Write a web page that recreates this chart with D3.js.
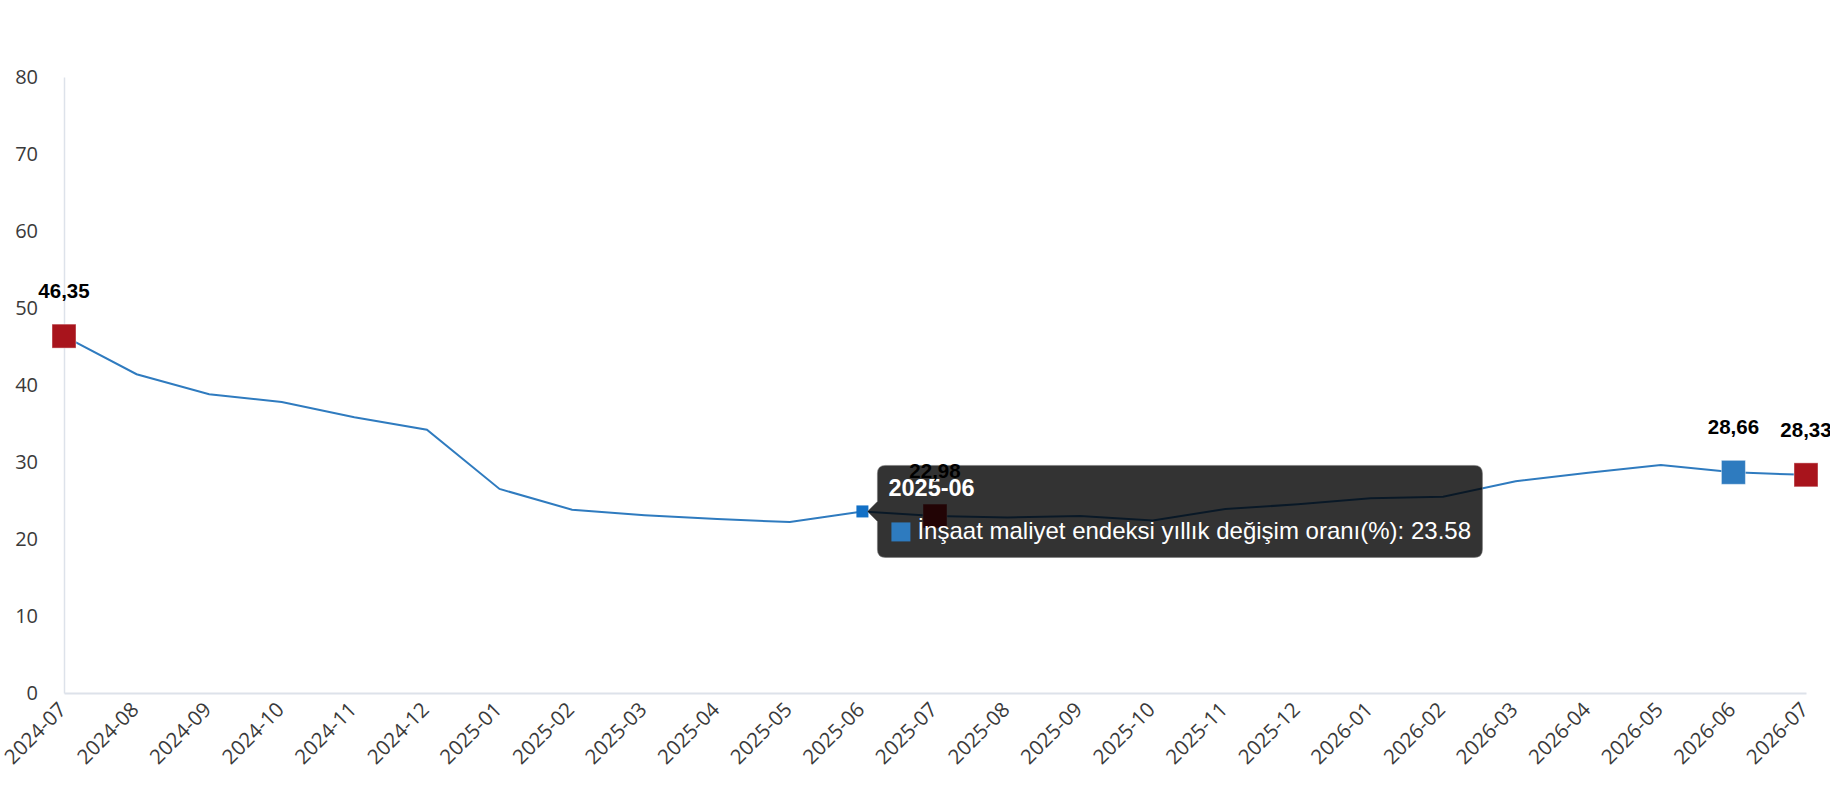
<!DOCTYPE html>
<html>
<head>
<meta charset="utf-8">
<script src="https://cdn.jsdelivr.net/npm/d3@7"></script>
<style>
  body { margin: 0; background: #fff; }
  svg { display: block; }
</style>
</head>
<body>
<div id="chart"></div>
<script>
// data
const months = ['2024-07', '2024-08', '2024-09', '2024-10', '2024-11', '2024-12',
  '2025-01', '2025-02', '2025-03', '2025-04', '2025-05', '2025-06', '2025-07',
  '2025-08', '2025-09', '2025-10', '2025-11', '2025-12', '2026-01', '2026-02',
  '2026-03', '2026-04', '2026-05', '2026-06', '2026-07'];
const values = [46.35, 41.4, 38.8, 37.8, 35.8, 34.2, 26.5, 23.8, 23.1, 22.6, 22.2,
  23.58, 22.98, 22.8, 23.0, 22.4, 23.9, 24.5, 25.3, 25.5, 27.5, 28.6, 29.6, 28.66, 28.33];
const yTicks = [0, 10, 20, 30, 40, 50, 60, 70, 80];
const redPoints = ['2024-07', '2025-07', '2026-07'];
const bluePoints = ['2026-06'];
const hoverMonth = '2025-06';
const seriesName = 'İnşaat maliyet endeksi yıllık değişim oranı(%)';

const width = 1830;
const height = 800;
const margin = { top: 77, right: 24, bottom: 107, left: 64 };

const data = months.map((m, i) => ({ month: m, value: values[i] }));

const svg = d3.select('#chart').append('svg')
  .attr('width', width)
  .attr('height', height);

const x = d3.scalePoint()
  .domain(months)
  .range([margin.left, width - margin.right]);

const y = d3.scaleLinear()
  .domain([0, 80])
  .range([height - margin.bottom, margin.top]);

// axes
const yAxis = d3.axisLeft(y).tickValues(yTicks).tickSize(0).tickPadding(26);
const gy = svg.append('g').attr('transform', `translate(${margin.left},0)`).call(yAxis);
gy.select('.domain').attr('stroke', '#dde2ea').attr('stroke-width', 1.5);
gy.selectAll('text')
  .attr('font-family', '"Open Sans", sans-serif')
  .attr('font-size', 20)
  .attr('fill', '#3a3a3a');

const xAxis = d3.axisBottom(x).tickSize(0).tickPadding(0);
const gx = svg.append('g').attr('transform', `translate(0,${y(0)})`).call(xAxis);
gx.select('.domain').attr('stroke', '#dde2ea').attr('stroke-width', 2);
gx.selectAll('text')
  .attr('font-family', '"Open Sans", sans-serif')
  .attr('font-size', 20.5)
  .attr('fill', '#3a3a3a')
  .attr('text-anchor', 'end')
  .attr('y', 0)
  .attr('dy', 0)
  .attr('transform', 'translate(3,18) rotate(-45)');

// line
const line = d3.line()
  .x((d) => x(d.month))
  .y((d) => y(d.value));

svg.append('path')
  .datum(data)
  .attr('fill', 'none')
  .attr('stroke', '#2f7bbf')
  .attr('stroke-width', 2)
  .attr('d', line);

// highlighted squares
const big = 24;
const marked = data.filter((d) => redPoints.includes(d.month) || bluePoints.includes(d.month));

svg.append('g')
  .selectAll('rect')
  .data(marked)
  .enter()
  .append('rect')
  .attr('x', (d) => x(d.month) - big / 2)
  .attr('y', (d) => y(d.value) - big / 2)
  .attr('width', big)
  .attr('height', big)
  .attr('fill', (d) => (redPoints.includes(d.month) ? '#a8141c' : '#2e7bbf'))
  .attr('stroke', 'rgba(255,255,255,0.45)')
  .attr('stroke-width', 1);

// hovered point
const hov = data.find((d) => d.month === hoverMonth);
const hs = 12;
svg.append('rect')
  .attr('x', x(hov.month) - hs / 2)
  .attr('y', y(hov.value) - hs / 2)
  .attr('width', hs)
  .attr('height', hs)
  .attr('fill', '#1270c6');

// tooltip
const tipX = x(hov.month) + 15;
const tipY = y(hov.value) - 46;
const tipW = 605;
const tipH = 92;
const tip = svg.append('g').attr('transform', `translate(${tipX},${tipY})`);

tip.append('path')
  .attr('d', `M8,0 H${tipW - 8} Q${tipW},0 ${tipW},8 V${tipH - 8} Q${tipW},${tipH} ${tipW - 8},${tipH}`
    + ` H8 Q0,${tipH} 0,${tipH - 8} V56 L-10,46 L0,36 V8 Q0,0 8,0 Z`)
  .attr('fill', 'rgba(0,0,0,0.8)')
  .attr('stroke', 'rgba(120,120,120,0.6)')
  .attr('stroke-width', 1);

tip.append('text')
  .attr('x', 11)
  .attr('y', 31)
  .attr('font-family', '"Liberation Sans", Arial, sans-serif')
  .attr('font-weight', 'bold')
  .attr('font-size', 23.5)
  .attr('fill', '#fff')
  .text(hov.month);

tip.append('rect')
  .attr('x', 14)
  .attr('y', 57)
  .attr('width', 19)
  .attr('height', 19)
  .attr('fill', '#2e7bbf');

tip.append('text')
  .attr('x', 40)
  .attr('y', 74)
  .attr('font-family', '"Liberation Sans", Arial, sans-serif')
  .attr('font-size', 24)
  .attr('fill', '#fff')
  .text(`${seriesName}: ${hov.value.toFixed(2)}`);

// value labels
svg.append('g')
  .selectAll('text')
  .data(marked)
  .enter()
  .append('text')
  .attr('x', (d) => x(d.month))
  .attr('y', (d) => y(d.value) - 38)
  .attr('text-anchor', 'middle')
  .attr('font-family', '"Liberation Sans", Arial, sans-serif')
  .attr('font-weight', 'bold')
  .attr('font-size', 20.5)
  .attr('fill', '#000')
  .text((d) => d.value.toFixed(2).replace('.', ','));
</script>
</body>
</html>
